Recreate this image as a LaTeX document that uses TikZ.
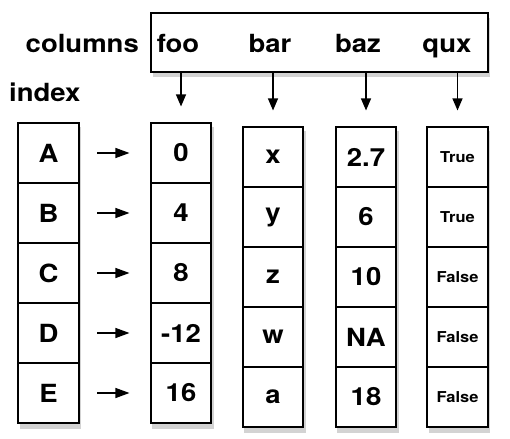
\documentclass[tikz,border=0pt]{standalone}
\usepackage{fontspec}
\setmainfont{TeX Gyre Heros}[FakeStretch=1.1]
\usetikzlibrary{arrows.meta,shadows,fit,backgrounds}

\tikzset{
  cell/.style={draw, line width=1.1pt, fill=white, minimum width=60pt, minimum height=60pt,
    inner sep=0pt, font=\fontsize{25}{30}\selectfont\bfseries},
  smallcell/.style={cell, font=\fontsize{15}{18}\selectfont\bfseries},
  frame/.style={draw, line width=1.1pt, fill=white, inner sep=0pt,
    drop shadow={shadow xshift=2pt, shadow yshift=-5pt, opacity=0.35}},
  heading/.style={font=\fontsize{25}{30}\selectfont\bfseries, inner sep=0pt},
  pointer/.style={-{Triangle[length=12pt,width=10pt]}, line width=1.2pt},
}

\begin{document}
\begin{tikzpicture}[x=1pt, y=-1pt]
  \useasboundingbox (0,0) rectangle (510,438);

  % the columns box on top, with its labels
  \node[frame, minimum width=337pt, minimum height=59pt] (colbox) at (319.5,42.5) {};
  \node[heading, anchor=base east] (columns) at (139,53) {columns};
  \node[heading, anchor=base] (h-foo) at (178,53) {foo};
  \node[heading, anchor=base] (h-bar) at (270,53) {bar};
  \node[heading, anchor=base] (h-baz) at (358,53) {baz};
  \node[heading, anchor=base] (h-qux) at (447,53) {qux};
  \node[heading, anchor=base west] (index) at (9,102) {index};

  % the index and the four data columns
  \foreach \name/\x/\top/\sty/\vals in {
      idx/48.5/123/cell/{A,B,C,D,E},
      foo/181/123/cell/{0,4,8,-12,16},
      bar/273/127/cell/{x,y,z,w,a},
      baz/366/127/cell/{2.7,6,10,NA,18},
      qux/457.5/127/smallcell/{True,True,False,False,False}}
  {
    \foreach \v [count=\i] in \vals
      \node[\sty] (\name-\i) at (\x,{\top+30+60*(\i-1)}) {\v};
  }

  % white frames with a shadow behind every column
  \begin{pgfonlayer}{background}
    \foreach \name in {idx,foo,bar,baz,qux}
      \node[frame, fit=(\name-1)(\name-5)] (\name-frame) {};
  \end{pgfonlayer}

  % arrows from the column names down to the columns
  \foreach \name in {foo,bar,baz,qux}
    \draw[pointer, shorten >=16pt] (colbox.south -| \name-1.north) -- (\name-1.north);

  % arrows from the index labels to the values
  \foreach \i in {1,...,5}
    \draw[pointer, -{Triangle[length=14pt,width=10pt]}, shorten <=18pt, shorten >=21pt]
      (idx-\i.east) -- (foo-\i.west);
\end{tikzpicture}
\end{document}
